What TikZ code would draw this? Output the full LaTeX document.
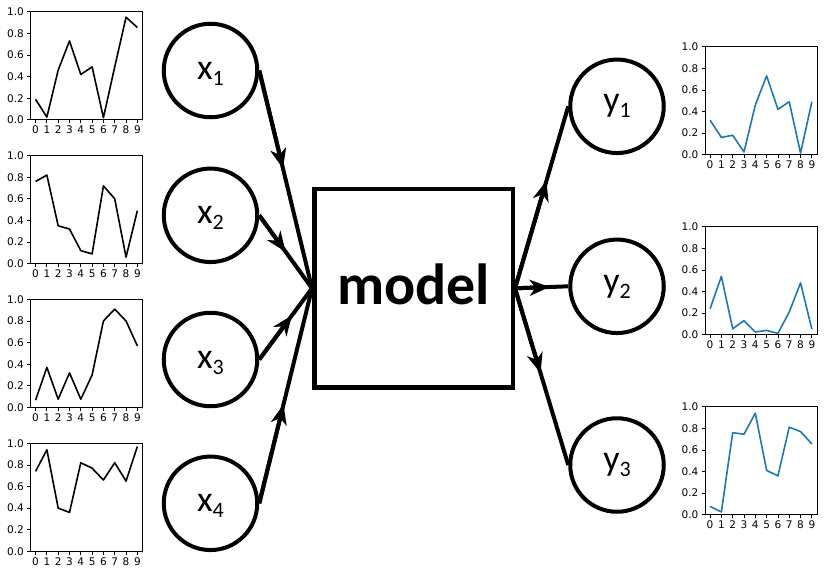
\documentclass[tikz,border=0pt]{standalone}
\usepackage{fontspec}
\newfontfamily\tickfont{DejaVu Sans}
\newfontfamily\calib{Carlito}
\usetikzlibrary{arrows.meta,calc}
\definecolor{mplblue}{HTML}{1F77B4}
\tikzset{
  spine/.style={line width=0.8pt, black},
  ticklbl/.style={font=\tickfont\fontsize{10.5}{12}\selectfont, inner sep=0pt, text=black},
  blackline/.style={line width=1.6pt, black, line join=round},
  blueline/.style={line width=1.6pt, mplblue, line join=round},
  var/.style={circle, draw, line width=4pt, minimum size=93.5pt, inner sep=0pt, font=\calib\fontsize{36}{40}\selectfont},
  modelbox/.style={rectangle, draw, line width=4.5pt, minimum width=198.5pt, minimum height=198.8pt},
  modeltext/.style={font=\calib\bfseries\fontsize{58}{60}\selectfont, inner sep=0pt},
  conn/.style={line width=4pt},
  headpart/.style={line width=4pt, -{Stealth[length=20pt,width=16pt,inset=6pt]}},
}
\newcommand{\subidx}[1]{\raisebox{-6pt}[0pt][0pt]{\fontsize{22}{24}\selectfont #1}}
\newcommand{\conn}[3]{%
  \draw[conn] (#1) -- (#2);
  \draw[headpart] (#1) -- ($(#1)!#3!(#2)$);}
\newcommand{\mplplot}[5]{%
  \begin{scope}[shift={(#2,#3)}]
    \foreach \i in {0,...,9}{
      \draw[spine] ({5.06+\i*11.31},108) -- ++(0,3.5);
      \node[ticklbl,anchor=north] (#1x\i) at ({5.06+\i*11.31},114) {\i};
    }
    \foreach \k/\l in {0/0.0,1/0.2,2/0.4,3/0.6,4/0.8,5/1.0}{
      \draw[spine] (0,{108-\k*21.6}) -- ++(-3.5,0);
      \node[ticklbl,anchor=east] (#1y\k) at (-6.5,{108-\k*21.6}) {\l};
    }
    \begin{scope}[shift={(5.06,108)}, xscale=11.31, yscale=-108]
      \draw[#4] plot coordinates {#5};
    \end{scope}
    \draw[spine] (0,0) rectangle (112,108);
  \end{scope}}
\begin{document}
\begin{tikzpicture}[x=1pt,y=-1pt]
\fill[white] (0,0) rectangle (827,576);
\useasboundingbox (0,0) rectangle (827,576);

% input plots
\mplplot{pa}{30.5}{11.8}{blackline}{(0,0.19)(1,0.025)(2,0.46)(3,0.73)(4,0.42)(5,0.49)(6,0.02)(7,0.49)(8,0.95)(9,0.855)}
\mplplot{pb}{30.5}{155.6}{blackline}{(0,0.76)(1,0.82)(2,0.35)(3,0.32)(4,0.12)(5,0.09)(6,0.72)(7,0.60)(8,0.06)(9,0.49)}
\mplplot{pc}{30.5}{299.4}{blackline}{(0,0.067)(1,0.37)(2,0.076)(3,0.32)(4,0.076)(5,0.30)(6,0.80)(7,0.91)(8,0.80)(9,0.57)}
\mplplot{pd}{30.5}{443.3}{blackline}{(0,0.74)(1,0.94)(2,0.40)(3,0.36)(4,0.82)(5,0.77)(6,0.66)(7,0.82)(8,0.65)(9,0.97)}

% output plots
\mplplot{qa}{705}{46.7}{blueline}{(0,0.32)(1,0.16)(2,0.18)(3,0.025)(4,0.46)(5,0.73)(6,0.42)(7,0.49)(8,0.015)(9,0.49)}
\mplplot{qb}{705}{226.7}{blueline}{(0,0.24)(1,0.54)(2,0.055)(3,0.13)(4,0.025)(5,0.04)(6,0.012)(7,0.21)(8,0.48)(9,0.05)}
\mplplot{qc}{705}{406.7}{blueline}{(0,0.077)(1,0.025)(2,0.76)(3,0.745)(4,0.94)(5,0.41)(6,0.36)(7,0.81)(8,0.77)(9,0.655)}

% nodes
\node[var] (x1) at (210.5,70.5) {x\subidx{1}};
\node[var] (x2) at (210.5,215.3) {x\subidx{2}};
\node[var] (x3) at (210.5,359.5) {x\subidx{3}};
\node[var] (x4) at (210.5,503.3) {x\subidx{4}};
\node[modelbox] (model) at (413.5,288.3) {};
\node[modeltext] (modellbl) at ([yshift=3.8pt]model.center) {model};
\node[var] (y1) at (617,106.3) {y\subidx{1}};
\node[var] (y2) at (617,286.3) {y\subidx{2}};
\node[var] (y3) at (617,465) {y\subidx{3}};

% connectors
\conn{x1.east}{model.west}{0.45}
\conn{x2.east}{model.west}{0.5}
\conn{x3.east}{model.west}{0.62}
\conn{x4.east}{model.west}{0.46}
\conn{model.east}{y1.west}{0.59}
\conn{model.east}{y2.west}{0.65}
\conn{model.east}{y3.west}{0.48}
\end{tikzpicture}
\end{document}
